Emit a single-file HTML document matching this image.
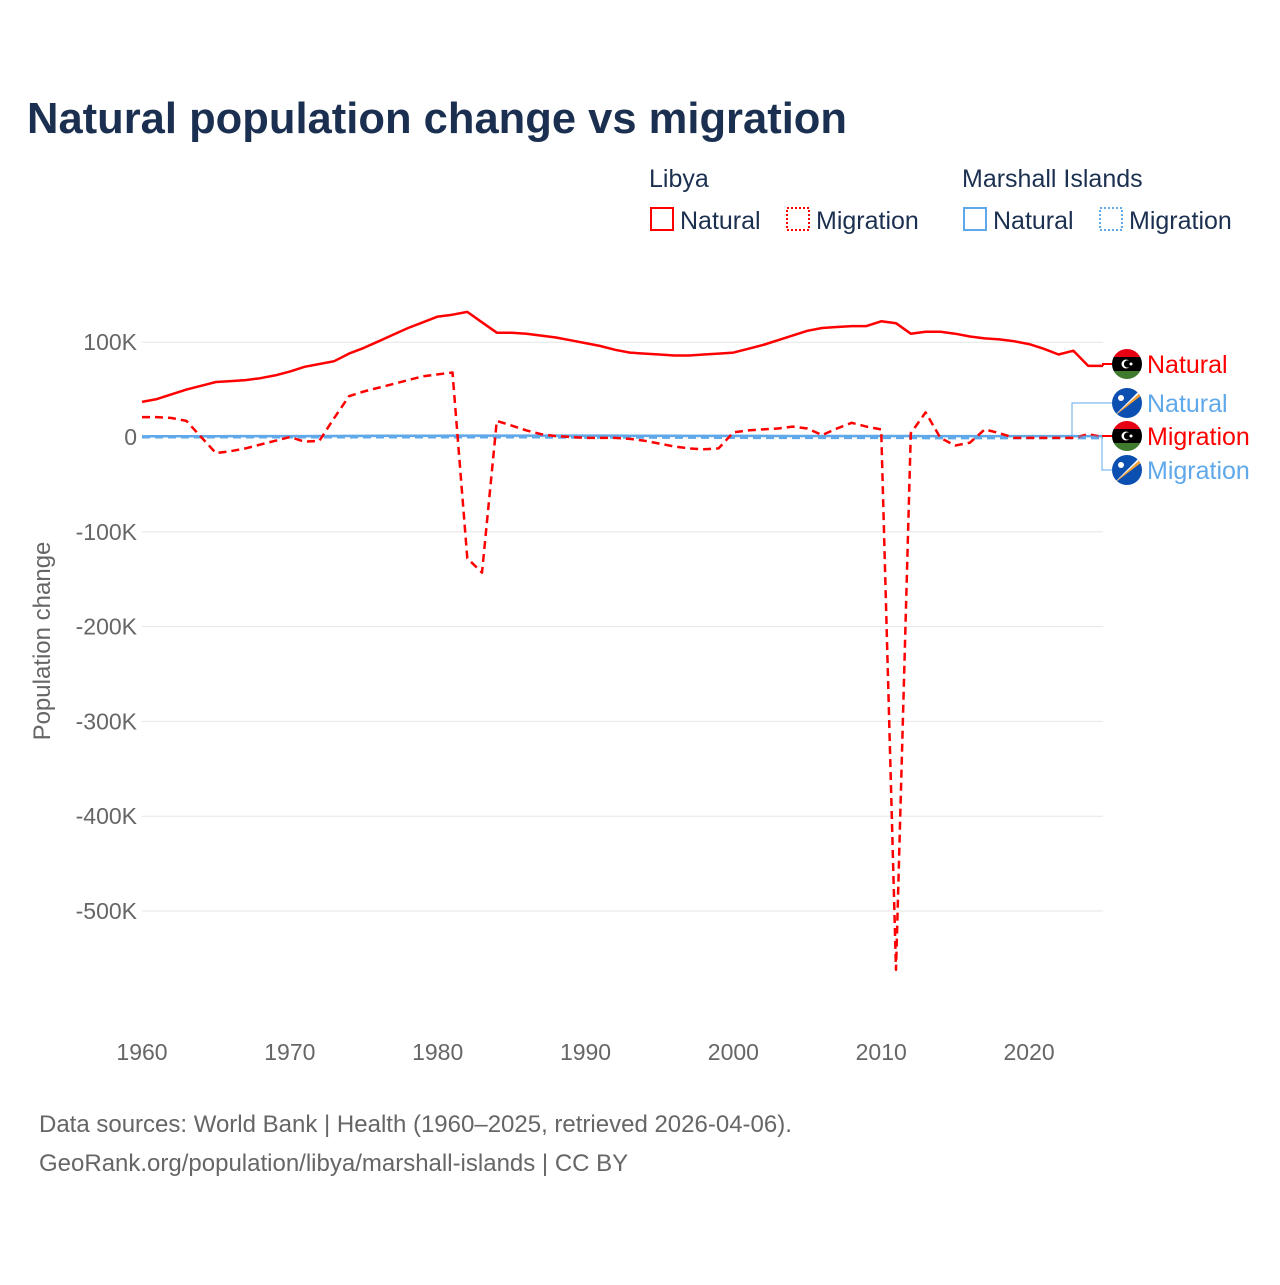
<!DOCTYPE html>
<html><head><meta charset="utf-8">
<style>
html,body{margin:0;padding:0;background:#fff;}
body{width:1280px;height:1280px;overflow:hidden;font-family:"Liberation Sans",sans-serif;}
svg text{font-family:"Liberation Sans",sans-serif;}
</style></head>
<body>
<svg id="chart" width="1280" height="1280" xmlns="http://www.w3.org/2000/svg">
<text x="27" y="133" font-size="44" font-weight="bold" fill="#1b3050" textLength="820" lengthAdjust="spacingAndGlyphs">Natural population change vs migration</text>
<g font-size="25" fill="#1b3050">
<text x="649" y="187">Libya</text>
<text x="962" y="187">Marshall Islands</text>
<g><rect x="651" y="208" width="22" height="22" fill="none" stroke="#ff0000" stroke-width="2"/><text x="680" y="229">Natural</text></g>
<g><rect x="787" y="208" width="22" height="22" fill="none" stroke="#ff0000" stroke-width="2" stroke-dasharray="2,2"/><text x="816" y="229">Migration</text></g>
<g><rect x="964" y="208" width="22" height="22" fill="none" stroke="#5fa8ea" stroke-width="2"/><text x="993" y="229">Natural</text></g>
<g><rect x="1100" y="208" width="22" height="22" fill="none" stroke="#5fa8ea" stroke-width="2" stroke-dasharray="2,2"/><text x="1129" y="229">Migration</text></g>
</g>
<g id="grid"></g>
<g id="yticks" font-size="23" fill="#666" text-anchor="end"></g>
<g id="xticks" font-size="23" fill="#666" text-anchor="middle"></g>
<text transform="translate(50,641) rotate(-90)" font-size="24" fill="#666" text-anchor="middle">Population change</text>
<g id="series"></g>
<g id="labels" font-size="25"></g>
<text x="39" y="1132" font-size="24" fill="#666">Data sources: World Bank | Health (1960–2025, retrieved 2026-04-06).</text>
<text x="39" y="1171" font-size="24" fill="#666">GeoRank.org/population/libya/marshall-islands | CC BY</text>
</svg>
<script>
const years = [];
for (let y = 1960; y <= 2025; y++) years.push(y);
const libyaNatural = [37,40,45,50,54,58,59,60,62,65,69,74,77,80,88,94,101,108,115,121,127,129,132,121,110,110,109,107,105,102,99,96,92,89,88,87,86,86,87,88,89,93,97,102,107,112,115,116,117,117,122,120,109,111,111,109,106,104,103,101,98,93,87,91,75,75];
const libyaMigration = [21,21,20,17,0,-17,-15,-12,-8,-4,0,-5,-4,20,43,48,52,56,60,64,66,68,-128,-143,17,12,7,3,1,0,-1,-1,-1,-2,-4,-7,-10,-12,-13,-12,5,7,8,9,11,9,2,9,15,11,8,-562,4,26,-1,-9,-6,8,4,-1,-1,-1,-1,-1,3,0];
const mhNatural = [0.6,0.7,0.7,0.8,0.8,0.8,0.9,0.9,1,1,1,1,1.1,1.1,1.2,1.2,1.3,1.3,1.3,1.4,1.4,1.5,1.5,1.5,1.5,1.5,1.5,1.5,1.5,1.5,1.5,1.5,1.5,1.4,1.4,1.3,1.3,1.2,1.2,1.2,1.2,1.2,1.2,1.1,1.1,1.1,1.1,1.1,1.1,1.1,1.1,1.1,1.1,1.0,1.0,1.0,1.0,1.0,1.0,0.9,0.9,0.9,0.9,0.9,0.9,0.9];
const mhMigration = [-0.2,-0.2,-0.2,-0.3,-0.3,-0.3,-0.3,-0.3,-0.3,-0.3,-0.3,-0.3,-0.3,-0.3,-0.3,-0.3,-0.3,-0.3,-0.3,-0.3,-0.3,-0.3,-0.3,-0.3,-0.3,-0.3,-0.3,-0.3,-0.5,-0.5,-0.5,-0.5,-0.5,-0.5,-0.5,-0.6,-0.6,-0.6,-0.6,-0.8,-0.8,-0.8,-1,-1,-1,-1,-1,-1,-1,-1,-1,-1,-1,-1.2,-1.2,-1.2,-1.2,-1.2,-1.2,-1.2,-1.2,-1.2,-1.2,-1.2,-1.2,-1.2];
const yTickValues = [100,0,-100,-200,-300,-400,-500];
const yTickLabels = ["100K","0","-100K","-200K","-300K","-400K","-500K"];
const xTickValues = [1960,1970,1980,1990,2000,2010,2020];

const NS = "http://www.w3.org/2000/svg";
const X0 = 142, X1 = 1103, Y0 = 437, PER100K = 94.8;
function xs(yr){ return X0 + (yr - 1960) * (X1 - X0) / 65; }
function ys(v){ return Y0 - v * PER100K / 100; }
function mk(tag, attrs, parent){ const e = document.createElementNS(NS, tag); for (const k in attrs) e.setAttribute(k, attrs[k]); parent.appendChild(e); return e; }

const grid = document.getElementById('grid'), yt = document.getElementById('yticks'), xt = document.getElementById('xticks');
yTickValues.forEach((v, i) => {
  const l = mk('line', {x1: X0, x2: X1, y1: ys(v), y2: ys(v), stroke: '#e6e6e6', 'stroke-width': 1}, grid);
  
  
  const t = mk('text', {x: 137, y: ys(v) + 8}, yt);
  t.textContent = yTickLabels[i];
  
  
});
xTickValues.forEach(v => {
  const t = mk('text', {x: xs(v), y: 1060}, xt);
  t.textContent = String(v);
  
  
});

const series = document.getElementById('series');
function line(vals, color, dash, name){
  const d = vals.map((v, i) => (i ? 'L' : 'M') + xs(years[i]).toFixed(1) + ',' + ys(v).toFixed(1)).join(' ');
  const p = mk('path', {d: d, fill: 'none', stroke: color, 'stroke-width': 2.5, 'stroke-linejoin': 'round'}, series);
  if (dash) p.setAttribute('stroke-dasharray', dash);
  
  
}
line(mhNatural, '#5fa8ea', null, 'line-marshall-natural');
line(mhMigration, '#5fa8ea', '8,5', 'line-marshall-migration');
line(libyaNatural, '#ff0000', null, 'line-libya-natural');
line(libyaMigration, '#ff0000', '8,5', 'line-libya-migration');

const labels = document.getElementById('labels');
const endItems = [
  {ly: 364, vy: ys(libyaNatural[65]), color: '#ff0000', flag: 'ly', text: 'Natural', name: 'label-libya-natural'},
  {ly: 403, vy: ys(mhNatural[65]), color: '#5fa8ea', flag: 'mh', text: 'Natural', name: 'label-marshall-natural'},
  {ly: 436, vy: ys(libyaMigration[65]), color: '#ff0000', flag: 'ly', text: 'Migration', name: 'label-libya-migration'},
  {ly: 470, vy: ys(mhMigration[65]), color: '#5fa8ea', flag: 'mh', text: 'Migration', name: 'label-marshall-migration'}
];
endItems.forEach(it => {
  const g = mk('g', {}, labels);
  
  
  const bx = it.flag === 'mh' ? (it.text === 'Natural' ? 1072 : 1102) : 1103;
  mk('path', {d: `M${X1},${it.vy} L${bx},${it.vy} L${bx},${it.ly} L1112,${it.ly}`, fill: 'none', stroke: it.color, 'stroke-width': it.flag === 'mh' ? 1 : 2}, g);
  const cx = 1127, cy = it.ly, r = 15;
  const cid = 'c' + it.ly;
  const cp = mk('clipPath', {id: cid}, g); mk('circle', {cx: cx, cy: cy, r: r}, cp);
  const f = mk('g', {'clip-path': `url(#${cid})`}, g);
  if (it.flag === 'ly') {
    mk('rect', {x: cx - r, y: cy - r, width: 30, height: 8, fill: '#e70013'}, f);
    mk('rect', {x: cx - r, y: cy - 7, width: 30, height: 14, fill: '#000'}, f);
    mk('rect', {x: cx - r, y: cy + 7, width: 30, height: 8, fill: '#3f7a2e'}, f);
    mk('circle', {cx: cx - 1, cy: cy, r: 4.5, fill: '#fff'}, f);
    mk('circle', {cx: cx + 0.5, cy: cy, r: 3.6, fill: '#000'}, f);
    mk('circle', {cx: cx + 4, cy: cy, r: 1.5, fill: '#fff'}, f);
  } else {
    mk('rect', {x: cx - r, y: cy - r, width: 30, height: 30, fill: '#0b4fb0'}, f);
    mk('path', {d: `M${cx - r},${cy + r} L${cx + r},${cy - r + 3} L${cx + r},${cy - r + 7} Z`, fill: '#f7a02e'}, f);
    mk('path', {d: `M${cx - r},${cy + r} L${cx + r},${cy - r} L${cx + r},${cy - r + 3} Z`, fill: '#fff'}, f);
    mk('circle', {cx: cx - 6, cy: cy - 5, r: 3, fill: '#fff'}, f);
  }
  const t = mk('text', {x: 1147, y: it.ly + 9, fill: it.color}, g);
  t.textContent = it.text;
});
</script>
</body></html>
